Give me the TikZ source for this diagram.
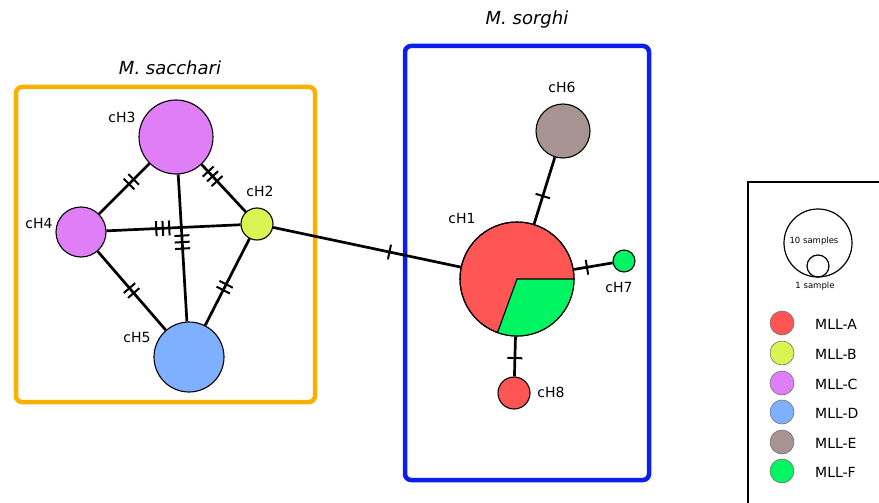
\documentclass[tikz,border=0pt]{standalone}
\usepackage{fontspec}
\setmainfont{DejaVu Sans}
\usetikzlibrary{decorations.markings}
\definecolor{cA}{HTML}{FF5555}
\definecolor{cB}{HTML}{DAF552}
\definecolor{cC}{HTML}{E07EF8}
\definecolor{cD}{HTML}{7FB0FF}
\definecolor{cE}{HTML}{A89393}
\definecolor{cF}{HTML}{00F562}
\definecolor{orangebox}{HTML}{F7B100}
\definecolor{bluebox}{HTML}{0A1EEE}
\tikzset{
  hap/.style={circle, draw=black, line width=1.1pt, inner sep=0pt, minimum size=#1},
  lab/.style={font=\fontsize{14}{16}\selectfont, inner sep=0pt},
  title/.style={font=\fontsize{18}{20}\selectfont\itshape, inner sep=0pt},
  link/.style={line width=2.7pt},
  mut/.style 2 args={postaction={decorate, decoration={markings,
     mark=at position #1 with {\foreach \i in {1,...,#2}{\draw[line width=2pt] ({(\i-(#2+1)/2)*6.5pt},-7.5pt) -- ++(0pt,15pt);}}}}},
  grp/.style={rounded corners=6pt, line width=4.5pt},
  legc/.style={circle, draw=black!55, line width=0.6pt, inner sep=0pt, minimum size=24pt},
  legt/.style={font=\fontsize{14}{16}\selectfont, anchor=west, inner sep=0pt}
}
\begin{document}
\begin{tikzpicture}[x=1pt,y=-1pt]
\useasboundingbox (0,0) rectangle (879,503);
% group boxes
\draw[grp, draw=orangebox] (16,87) rectangle (315,402);
\draw[grp, draw=bluebox] (405,46) rectangle (649,480);
\node[title] (tsac) at (170,68) {M. sacchari};
\node[title] (tsor) at (527,20) {M. sorghi};
% haplotypes
\node[hap=74pt, fill=cC] (h3) at (176,137) {};
\node[hap=50pt, fill=cC] (h4) at (81,232) {};
\node[hap=32pt, fill=cB] (h2) at (257,224) {};
\node[hap=70pt, fill=cD] (h5) at (189,357) {};
\node[hap=114pt, fill=cA] (h1) at (517,279) {};
\fill[cF] (h1.center) -- ++(0:57) arc (0:110:57) -- cycle;
\draw[line width=1.1pt] (h1.center) ++(0:57) -- (h1.center) -- ++(110:57);
\draw[line width=1.1pt] (h1.center) circle (57);
\node[hap=54pt, fill=cE] (h6) at (563,131) {};
\node[hap=22pt, fill=cF] (h7) at (624,261) {};
\node[hap=32pt, fill=cA] (h8) at (514,393) {};
% labels
\node[lab] (l3) at (122,117) {cH3};
\node[lab] (l4) at (39,223) {cH4};
\node[lab] (l2) at (260,191) {cH2};
\node[lab] (l5) at (137,337) {cH5};
\node[lab] (l1) at (462,218) {cH1};
\node[lab] (l6) at (562,87) {cH6};
\node[lab] (l7) at (619,287) {cH7};
\node[lab] (l8) at (551,392) {cH8};
% links
\draw[link, mut={0.36}{2}] (h3) -- (h4);
\draw[link, mut={0.25}{3}] (h3) -- (h2);
\draw[link, mut={0.42}{3}] (h4) -- (h2);
\draw[link, mut={0.46}{3}] (h3) -- (h5);
\draw[link, mut={0.50}{2}] (h4) -- (h5);
\draw[link, mut={0.56}{2}] (h2) -- (h5);
\draw[link, mut={0.62}{1}] (h2) -- (h1);
\draw[link, mut={0.42}{1}] (h1) -- (h6);
\draw[link, mut={0.34}{1}] (h1) -- (h7);
\draw[link, mut={0.54}{1}] (h1) -- (h8);
% legend
\coordinate (lgtr) at (879,182);
\coordinate (lgbl) at (748,503);
\draw[line width=1.3pt] (lgtr) -- (748,182) -- (lgbl);
\node[circle, draw=black, line width=1.2pt, inner sep=0pt, minimum size=68pt] (big) at (818,243) {};
\node[circle, draw=black, line width=1.2pt, inner sep=0pt, minimum size=22pt] (small) at (818,266) {};
\node[font=\fontsize{8.5}{9}\selectfont, inner sep=0pt] (t10) at (814,241) {10 samples};
\node[font=\fontsize{8.5}{9}\selectfont, inner sep=0pt] (t1) at (815,286) {1 sample};
\node[legc, fill=cA] (la) at (782,323) {};
\node[legc, fill=cB] (lb) at (782,353) {};
\node[legc, fill=cC] (lc) at (782,383) {};
\node[legc, fill=cD] (ld) at (782,412) {};
\node[legc, fill=cE] (le) at (782,442) {};
\node[legc, fill=cF] (lf) at (782,471) {};
\node[legt] at (815,324) {MLL-A};
\node[legt] at (815,354) {MLL-B};
\node[legt] at (815,384) {MLL-C};
\node[legt] at (815,413) {MLL-D};
\node[legt] at (815,443) {MLL-E};
\node[legt] at (815,472) {MLL-F};
\end{tikzpicture}
\end{document}
